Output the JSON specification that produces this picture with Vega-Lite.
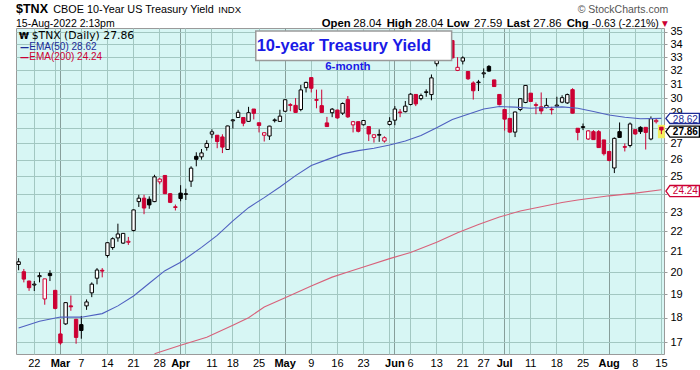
{
"$schema": "https://vega.github.io/schema/vega-lite/v6.json",
"width": 648, "height": 326,
"autosize": {"type": "none"},
"padding": {"left": 16, "top": 28, "right": 36, "bottom": 16},
"background": "white",
"config": {"font": "Liberation Sans", "view": {"fill": "#d7f6f4", "stroke": "#9a9a9a", "strokeWidth": 1}},
"datasets": {
"px": [
{"d":"2022-02-16","o":20.37,"h":20.67,"l":20.1,"c":20.5},
{"d":"2022-02-17","o":20.03,"h":20.16,"l":19.54,"c":19.69},
{"d":"2022-02-18","o":19.6,"h":19.62,"l":19.16,"c":19.3},
{"d":"2022-02-22","o":19.42,"h":19.6,"l":19.15,"c":19.46},
{"d":"2022-02-23","o":19.8,"h":20.0,"l":19.54,"c":19.85},
{"d":"2022-02-24","o":18.8,"h":19.7,"l":18.55,"c":19.7},
{"d":"2022-02-25","o":19.95,"h":20.1,"l":19.6,"c":19.85},
{"d":"2022-02-28","o":19.18,"h":19.2,"l":18.35,"c":18.39},
{"d":"2022-03-01","o":17.33,"h":17.93,"l":16.9,"c":16.97},
{"d":"2022-03-02","o":17.74,"h":18.66,"l":17.7,"c":18.64},
{"d":"2022-03-03","o":18.5,"h":18.95,"l":18.29,"c":18.46},
{"d":"2022-03-04","o":17.93,"h":17.95,"l":16.94,"c":17.19},
{"d":"2022-03-07","o":17.71,"h":18.07,"l":17.14,"c":17.47},
{"d":"2022-03-08","o":18.5,"h":18.78,"l":18.33,"c":18.67},
{"d":"2022-03-09","o":19.07,"h":19.54,"l":18.88,"c":19.46},
{"d":"2022-03-10","o":19.73,"h":20.2,"l":19.45,"c":20.11},
{"d":"2022-03-11","o":20.1,"h":20.2,"l":19.77,"c":20.06},
{"d":"2022-03-14","o":20.8,"h":21.45,"l":20.7,"c":21.43},
{"d":"2022-03-15","o":21.19,"h":21.7,"l":21.08,"c":21.63},
{"d":"2022-03-16","o":21.67,"h":22.4,"l":21.48,"c":21.87},
{"d":"2022-03-17","o":21.41,"h":21.92,"l":21.37,"c":21.9},
{"d":"2022-03-18","o":21.45,"h":21.72,"l":21.32,"c":21.5},
{"d":"2022-03-21","o":22.05,"h":23.15,"l":22.0,"c":23.13},
{"d":"2022-03-22","o":23.58,"h":23.96,"l":23.29,"c":23.77},
{"d":"2022-03-23","o":23.77,"h":23.96,"l":22.9,"c":23.23},
{"d":"2022-03-24","o":23.71,"h":23.87,"l":23.19,"c":23.4},
{"d":"2022-03-25","o":23.58,"h":25.1,"l":23.55,"c":24.98},
{"d":"2022-03-28","o":24.69,"h":24.92,"l":24.55,"c":24.85},
{"d":"2022-03-29","o":25.06,"h":25.08,"l":24.0,"c":24.02},
{"d":"2022-03-30","o":24.02,"h":24.05,"l":23.5,"c":23.54},
{"d":"2022-03-31","o":23.3,"h":23.42,"l":23.1,"c":23.26},
{"d":"2022-04-01","o":24.05,"h":24.5,"l":23.6,"c":23.75},
{"d":"2022-04-04","o":23.98,"h":24.3,"l":23.67,"c":24.02},
{"d":"2022-04-05","o":24.73,"h":25.6,"l":24.4,"c":25.49},
{"d":"2022-04-06","o":26.2,"h":26.45,"l":25.6,"c":26.02},
{"d":"2022-04-07","o":26.17,"h":26.65,"l":26.0,"c":26.41},
{"d":"2022-04-08","o":26.75,"h":27.2,"l":26.55,"c":27.0},
{"d":"2022-04-11","o":27.59,"h":27.9,"l":27.33,"c":27.74},
{"d":"2022-04-12","o":27.52,"h":27.52,"l":26.7,"c":27.12},
{"d":"2022-04-13","o":27.41,"h":27.58,"l":26.4,"c":26.77},
{"d":"2022-04-14","o":26.62,"h":28.14,"l":26.6,"c":28.12},
{"d":"2022-04-18","o":28.46,"h":28.58,"l":27.95,"c":28.52},
{"d":"2022-04-19","o":28.68,"h":29.2,"l":28.65,"c":29.03},
{"d":"2022-04-20","o":28.68,"h":28.68,"l":28.1,"c":28.3},
{"d":"2022-04-21","o":28.42,"h":29.4,"l":28.4,"c":29.0},
{"d":"2022-04-22","o":29.25,"h":29.25,"l":28.55,"c":28.96},
{"d":"2022-04-25","o":28.33,"h":28.33,"l":27.7,"c":28.15},
{"d":"2022-04-26","o":27.52,"h":27.7,"l":27.12,"c":27.68},
{"d":"2022-04-27","o":27.47,"h":28.13,"l":27.22,"c":28.11},
{"d":"2022-04-28","o":28.47,"h":28.62,"l":28.35,"c":28.52},
{"d":"2022-04-29","o":28.42,"h":29.2,"l":28.4,"c":28.77},
{"d":"2022-05-02","o":29.1,"h":29.92,"l":29.05,"c":29.89},
{"d":"2022-05-03","o":29.55,"h":29.65,"l":29.1,"c":29.5},
{"d":"2022-05-04","o":29.5,"h":30.0,"l":29.0,"c":29.02},
{"d":"2022-05-05","o":29.22,"h":30.94,"l":29.1,"c":30.58},
{"d":"2022-05-06","o":30.74,"h":31.17,"l":30.4,"c":31.12},
{"d":"2022-05-09","o":31.47,"h":31.5,"l":30.4,"c":30.7},
{"d":"2022-05-10","o":29.9,"h":30.6,"l":29.3,"c":29.85},
{"d":"2022-05-11","o":29.48,"h":30.6,"l":29.0,"c":29.02},
{"d":"2022-05-12","o":28.32,"h":28.72,"l":28.05,"c":28.08},
{"d":"2022-05-13","o":29.0,"h":29.32,"l":28.7,"c":29.24},
{"d":"2022-05-16","o":29.18,"h":29.2,"l":28.6,"c":28.65},
{"d":"2022-05-17","o":28.97,"h":29.7,"l":28.85,"c":29.63},
{"d":"2022-05-18","o":29.9,"h":30.15,"l":28.65,"c":28.72},
{"d":"2022-05-19","o":28.19,"h":28.45,"l":27.7,"c":28.4},
{"d":"2022-05-20","o":28.4,"h":28.42,"l":27.7,"c":27.77},
{"d":"2022-05-23","o":28.2,"h":28.5,"l":28.15,"c":28.48},
{"d":"2022-05-24","o":28.08,"h":28.08,"l":27.15,"c":27.6},
{"d":"2022-05-25","o":27.38,"h":27.55,"l":27.05,"c":27.55},
{"d":"2022-05-26","o":27.52,"h":27.9,"l":27.1,"c":27.57},
{"d":"2022-05-27","o":27.15,"h":27.45,"l":27.05,"c":27.36},
{"d":"2022-05-31","o":28.22,"h":28.7,"l":28.15,"c":28.42},
{"d":"2022-06-01","o":28.5,"h":29.45,"l":28.17,"c":29.25},
{"d":"2022-06-02","o":29.05,"h":29.25,"l":28.7,"c":29.0},
{"d":"2022-06-03","o":29.07,"h":29.8,"l":29.02,"c":29.45},
{"d":"2022-06-06","o":29.56,"h":30.35,"l":29.5,"c":30.28},
{"d":"2022-06-07","o":30.26,"h":30.28,"l":29.45,"c":29.6},
{"d":"2022-06-08","o":29.97,"h":30.32,"l":29.85,"c":30.18},
{"d":"2022-06-09","o":30.4,"h":30.62,"l":30.1,"c":30.45},
{"d":"2022-06-10","o":30.25,"h":31.7,"l":29.85,"c":31.45},
{"d":"2022-06-13","o":32.5,"h":33.8,"l":32.3,"c":33.5},
{"d":"2022-06-14","o":33.5,"h":34.6,"l":33.3,"c":34.4},
{"d":"2022-06-15","o":34.0,"h":34.2,"l":33.2,"c":33.4},
{"d":"2022-06-16","o":34.3,"h":34.35,"l":32.9,"c":32.95},
{"d":"2022-06-17","o":32.0,"h":33.0,"l":31.95,"c":32.23},
{"d":"2022-06-21","o":32.7,"h":33.07,"l":32.45,"c":32.95},
{"d":"2022-06-22","o":31.92,"h":31.95,"l":31.3,"c":31.38},
{"d":"2022-06-23","o":31.08,"h":31.2,"l":29.9,"c":30.52},
{"d":"2022-06-24","o":31.1,"h":31.3,"l":30.5,"c":31.15},
{"d":"2022-06-27","o":31.75,"h":32.15,"l":31.45,"c":31.82},
{"d":"2022-06-28","o":32.3,"h":32.4,"l":31.9,"c":31.95},
{"d":"2022-06-29","o":31.3,"h":31.3,"l":30.8,"c":30.82},
{"d":"2022-06-30","o":30.26,"h":30.26,"l":29.5,"c":29.55},
{"d":"2022-07-01","o":29.22,"h":29.22,"l":27.82,"c":28.57},
{"d":"2022-07-05","o":28.62,"h":28.62,"l":27.68,"c":27.72},
{"d":"2022-07-06","o":27.72,"h":29.07,"l":27.4,"c":29.05},
{"d":"2022-07-07","o":29.22,"h":29.98,"l":29.1,"c":29.96},
{"d":"2022-07-08","o":29.7,"h":30.92,"l":29.65,"c":30.9},
{"d":"2022-07-11","o":30.35,"h":30.35,"l":29.75,"c":29.77},
{"d":"2022-07-12","o":29.55,"h":29.7,"l":28.9,"c":29.5},
{"d":"2022-07-13","o":29.4,"h":30.4,"l":28.9,"c":29.12},
{"d":"2022-07-14","o":29.35,"h":30.0,"l":29.3,"c":29.5},
{"d":"2022-07-15","o":29.24,"h":29.4,"l":28.88,"c":29.2},
{"d":"2022-07-18","o":29.45,"h":30.1,"l":29.4,"c":29.52},
{"d":"2022-07-19","o":29.72,"h":30.2,"l":29.65,"c":30.03},
{"d":"2022-07-20","o":29.67,"h":30.32,"l":29.6,"c":30.25},
{"d":"2022-07-21","o":30.6,"h":30.7,"l":28.95,"c":28.97},
{"d":"2022-07-22","o":27.97,"h":27.97,"l":27.2,"c":27.7},
{"d":"2022-07-25","o":28.02,"h":28.28,"l":27.85,"c":28.08},
{"d":"2022-07-26","o":27.28,"h":27.85,"l":27.22,"c":27.8},
{"d":"2022-07-27","o":27.75,"h":27.85,"l":27.22,"c":27.24},
{"d":"2022-07-28","o":27.75,"h":27.85,"l":26.72,"c":26.74},
{"d":"2022-07-29","o":27.22,"h":27.22,"l":26.25,"c":26.36},
{"d":"2022-08-01","o":26.5,"h":26.5,"l":25.9,"c":25.95},
{"d":"2022-08-02","o":25.5,"h":27.38,"l":25.2,"c":27.32},
{"d":"2022-08-03","o":27.75,"h":28.35,"l":27.35,"c":27.38},
{"d":"2022-08-04","o":26.8,"h":27.0,"l":26.5,"c":26.76},
{"d":"2022-08-05","o":26.87,"h":28.35,"l":26.75,"c":28.25},
{"d":"2022-08-08","o":27.88,"h":27.88,"l":27.55,"c":27.6},
{"d":"2022-08-09","o":28.03,"h":28.1,"l":27.6,"c":27.75},
{"d":"2022-08-10","o":28.03,"h":28.03,"l":26.62,"c":27.7},
{"d":"2022-08-11","o":27.28,"h":28.75,"l":27.2,"c":28.6},
{"d":"2022-08-12","o":28.4,"h":28.58,"l":28.28,"c":28.49},
{"d":"2022-08-15","o":28.04,"h":28.04,"l":27.59,"c":27.86}
],
"e50": [
{"d":"2022-02-16","v":17.57},{"d":"2022-02-23","v":17.85},{"d":"2022-03-01","v":18.03},{"d":"2022-03-07","v":18.02},
{"d":"2022-03-11","v":18.17},{"d":"2022-03-16","v":18.5},{"d":"2022-03-21","v":18.93},{"d":"2022-03-24","v":19.5},
{"d":"2022-03-29","v":20.08},{"d":"2022-04-01","v":20.48},{"d":"2022-04-07","v":21.2},{"d":"2022-04-12","v":21.8},
{"d":"2022-04-18","v":22.55},{"d":"2022-04-21","v":23.25},{"d":"2022-04-26","v":23.8},{"d":"2022-04-29","v":24.4},
{"d":"2022-05-04","v":25.05},{"d":"2022-05-09","v":25.65},{"d":"2022-05-12","v":26.0},{"d":"2022-05-17","v":26.35},
{"d":"2022-05-20","v":26.55},{"d":"2022-05-25","v":26.7},{"d":"2022-05-31","v":26.9},{"d":"2022-06-03","v":27.15},
{"d":"2022-06-08","v":27.5},{"d":"2022-06-13","v":28.0},{"d":"2022-06-16","v":28.55},{"d":"2022-06-22","v":28.9},
{"d":"2022-06-27","v":29.25},{"d":"2022-06-30","v":29.42},{"d":"2022-07-06","v":29.38},{"d":"2022-07-11","v":29.3},
{"d":"2022-07-14","v":29.35},{"d":"2022-07-19","v":29.4},{"d":"2022-07-22","v":29.3},{"d":"2022-07-27","v":29.08},
{"d":"2022-08-01","v":28.85},{"d":"2022-08-04","v":28.7},{"d":"2022-08-09","v":28.6},{"d":"2022-08-15","v":28.62}
],
"e200": [
{"d":"2022-03-25","v":16.55},{"d":"2022-04-01","v":16.88},{"d":"2022-04-08","v":17.2},{"d":"2022-04-18","v":17.68},
{"d":"2022-04-21","v":18.0},{"d":"2022-04-26","v":18.45},{"d":"2022-05-02","v":18.85},{"d":"2022-05-09","v":19.38},
{"d":"2022-05-13","v":19.78},{"d":"2022-05-18","v":20.02},{"d":"2022-05-23","v":20.25},{"d":"2022-05-31","v":20.65},
{"d":"2022-06-06","v":20.95},{"d":"2022-06-13","v":21.45},{"d":"2022-06-17","v":21.93},{"d":"2022-06-24","v":22.36},
{"d":"2022-06-30","v":22.75},{"d":"2022-07-07","v":23.07},{"d":"2022-07-13","v":23.3},{"d":"2022-07-19","v":23.53},
{"d":"2022-07-22","v":23.67},{"d":"2022-08-01","v":23.9},{"d":"2022-08-08","v":24.05},{"d":"2022-08-15","v":24.24}
]
},
"layer": [
{
"data": {"name": "px"},
"transform": [{"window": [{"op": "lag", "field": "c", "as": "pc"}], "sort": [{"field": "d"}]}],
"encoding": {
"x": {"field": "d", "type": "ordinal", "title": null,
"scale": {"type": "band", "paddingInner": 0, "paddingOuter": 0},
"axis": {"orient": "bottom", "bandPosition": 0.5, "grid": true, "ticks": false, "domain": false, "labelAngle": 0,
"labelFontSize": 11, "labelColor": "#000000", "labelPadding": 3, "labelOverlap": false, "labelBound": false, "labelFlush": false,
"values": ["2022-02-22","2022-02-28","2022-03-01","2022-03-07","2022-03-14","2022-03-21","2022-03-28","2022-04-01","2022-04-04","2022-04-11","2022-04-18","2022-04-25","2022-05-02","2022-05-09","2022-05-16","2022-05-23","2022-05-31","2022-06-01","2022-06-06","2022-06-13","2022-06-21","2022-06-27","2022-07-01","2022-07-05","2022-07-11","2022-07-18","2022-07-25","2022-08-01","2022-08-08","2022-08-15"],
"labelExpr": "indexof(['2022-02-28','2022-04-04','2022-05-31','2022-07-05'], datum.value) >= 0 ? '' : (indexof(['2022-03-01','2022-04-01','2022-05-02','2022-06-01','2022-07-01','2022-08-01'], datum.value) >= 0 ? ['Jan','Feb','Mar','Apr','May','Jun','Jul','Aug','Sep','Oct','Nov','Dec'][toNumber(substring(datum.value,5,7)) - 1] : '' + toNumber(substring(datum.value,8,10)))",
"labelFontWeight": {"condition": {"test": "indexof(['2022-03-01','2022-04-01','2022-05-02','2022-06-01','2022-07-01','2022-08-01'], datum.value) >= 0", "value": "bold"}, "value": "normal"},
"gridColor": {"condition": {"test": "indexof(['2022-03-01','2022-04-01','2022-05-02','2022-06-01','2022-07-01','2022-08-01'], datum.value) >= 0", "value": "#879e9a"}, "value": "#a2c7c1"}
}
}
},
"layer": [
{"mark": {"type": "bar", "width": 7, "color": "#f4ef5c"},
"transform": [{"filter": "datum.d == '2022-08-15'"}],
"encoding": {"y": {"datum": 27.33, "type": "quantitative", "scale": {"type": "log", "domain": [16.54, 35.32], "nice": false, "zero": false}}, "y2": {"datum": 28.19}}},
{"mark": {"type": "rule", "strokeWidth": 1},
"encoding": {
"y": {"field": "l", "type": "quantitative", "title": null,
"scale": {"type": "log", "domain": [16.54, 35.32], "nice": false, "zero": false},
"axis": {"orient": "right", "values": [17,18,19,20,21,22,23,24,25,26,27,28,29,30,31,32,33,34,35], "format": "d", "labelExpr": "datum.value == 28 || datum.value == 24 ? '' : datum.label", "grid": true, "gridColor": "#a2c7c1", "domain": false, "ticks": true, "tickSize": 3, "tickColor": "#9a9a9a", "labelFontSize": 11, "labelPadding": 3, "labelColor": "#000000", "labelOverlap": false, "labelBound": false, "labelFlush": false}},
"y2": {"field": "h"},
"color": {"condition": {"test": "datum.c < datum.pc", "value": "#cc0033"}, "value": "#000000"}
}},
{"mark": {"type": "bar", "width": 3.4, "strokeWidth": 1},
"encoding": {
"y": {"field": "o", "type": "quantitative", "title": null, "scale": {"type": "log", "domain": [16.54, 35.32], "nice": false, "zero": false}},
"y2": {"field": "c"},
"fill": {"condition": [{"test": "datum.c > datum.o", "value": "#ffffff"}, {"test": "datum.c < datum.pc", "value": "#cc0033"}], "value": "#000000"},
"stroke": {"condition": {"test": "datum.c < datum.pc", "value": "#cc0033"}, "value": "#000000"}
}}
]
},
{"data": {"name": "e50"}, "mark": {"type": "line", "color": "#4f60c0", "strokeWidth": 1.1, "clip": true},
"encoding": {"x": {"field": "d", "type": "ordinal", "title": null}, "y": {"field": "v", "type": "quantitative", "title": null, "scale": {"type": "log", "domain": [16.54, 35.32], "nice": false, "zero": false}}}},
{"data": {"name": "e200"}, "mark": {"type": "line", "color": "#d8617a", "strokeWidth": 1.1, "clip": true},
"encoding": {"x": {"field": "d", "type": "ordinal", "title": null}, "y": {"field": "v", "type": "quantitative", "title": null, "scale": {"type": "log", "domain": [16.54, 35.32], "nice": false, "zero": false}}}},
{"data": {"values": [{}]}, "mark": {"type": "rect", "fill": "#ffffff", "stroke": "#9a9a9a", "strokeWidth": 1.5, "xOffset": 2, "x2Offset": 4.5},
"encoding": {"x": {"datum": "2022-04-22", "type": "ordinal"}, "x2": {"datum": "2022-06-15"},
"y": {"datum": 35.08, "type": "quantitative", "scale": {"type": "log", "domain": [16.54, 35.32], "nice": false, "zero": false}}, "y2": {"datum": 32.75}}},
{"data": {"values": [{}]}, "mark": {"type": "text", "align": "left", "baseline": "alphabetic", "dx": 2.9, "fontSize": 16.5, "fontWeight": "bold", "color": "#1a1ae6", "text": "10-year Treasury Yield"},
"encoding": {"x": {"datum": "2022-04-22", "type": "ordinal"}, "y": {"datum": 33.45, "type": "quantitative", "scale": {"type": "log", "domain": [16.54, 35.32], "nice": false, "zero": false}}}},
{"data": {"values": [{}]}, "mark": {"type": "text", "align": "center", "baseline": "alphabetic", "fontSize": 11.5, "fontWeight": "bold", "color": "#1a1ae6", "text": "6-month"},
"encoding": {"x": {"datum": "2022-05-18", "type": "ordinal"}, "y": {"datum": 32.03, "type": "quantitative", "scale": {"type": "log", "domain": [16.54, 35.32], "nice": false, "zero": false}}}},
{"data": {"values": [{}]}, "mark": {"type": "text", "align": "left", "baseline": "alphabetic", "dx": 0.4, "font": "DejaVu Sans", "fontSize": 9, "fontWeight": "bold", "color": "#000000", "text": "₩"},
"encoding": {"x": {"datum": "2022-02-16", "type": "ordinal"}, "y": {"datum": 34.46, "type": "quantitative", "scale": {"type": "log", "domain": [16.54, 35.32], "nice": false, "zero": false}}}},
{"data": {"values": [{}]}, "mark": {"type": "text", "align": "left", "baseline": "alphabetic", "dx": 13.1, "font": "DejaVu Sans", "fontSize": 10.8, "color": "#000000", "text": "$TNX (Daily) 27.86"},
"encoding": {"x": {"datum": "2022-02-16", "type": "ordinal"}, "y": {"datum": 34.44, "type": "quantitative", "scale": {"type": "log", "domain": [16.54, 35.32], "nice": false, "zero": false}}}},
{"data": {"values": [{}]}, "mark": {"type": "text", "align": "left", "baseline": "alphabetic", "dx": 1.4, "font": "DejaVu Sans", "fontSize": 9, "fontWeight": "bold", "color": "#1c2b96", "text": "—"},
"encoding": {"x": {"datum": "2022-02-16", "type": "ordinal"}, "y": {"datum": 33.58, "type": "quantitative", "scale": {"type": "log", "domain": [16.54, 35.32], "nice": false, "zero": false}}}},
{"data": {"values": [{}]}, "mark": {"type": "text", "align": "left", "baseline": "alphabetic", "dx": 10.7, "fontSize": 10, "color": "#1c2b96", "text": "EMA(50) 28.62"},
"encoding": {"x": {"datum": "2022-02-16", "type": "ordinal"}, "y": {"datum": 33.58, "type": "quantitative", "scale": {"type": "log", "domain": [16.54, 35.32], "nice": false, "zero": false}}}},
{"data": {"values": [{}]}, "mark": {"type": "text", "align": "left", "baseline": "alphabetic", "dx": 1.4, "font": "DejaVu Sans", "fontSize": 9, "fontWeight": "bold", "color": "#cc0033", "text": "—"},
"encoding": {"x": {"datum": "2022-02-16", "type": "ordinal"}, "y": {"datum": 32.75, "type": "quantitative", "scale": {"type": "log", "domain": [16.54, 35.32], "nice": false, "zero": false}}}},
{"data": {"values": [{}]}, "mark": {"type": "text", "align": "left", "baseline": "alphabetic", "dx": 10.7, "fontSize": 10, "color": "#cc0033", "text": "EMA(200) 24.24"},
"encoding": {"x": {"datum": "2022-02-16", "type": "ordinal"}, "y": {"datum": 32.75, "type": "quantitative", "scale": {"type": "log", "domain": [16.54, 35.32], "nice": false, "zero": false}}}},
{"data": {"values": [{}]}, "mark": {"type": "text", "align": "left", "baseline": "alphabetic", "dx": -2.6, "fontSize": 12.5, "fontWeight": "bold", "color": "#000000", "text": "$TNX"},
"encoding": {"x": {"datum": "2022-02-16", "type": "ordinal"}, "y": {"datum": 36.54, "type": "quantitative", "scale": {"type": "log", "domain": [16.54, 35.32], "nice": false, "zero": false}}}},
{"data": {"values": [{}]}, "mark": {"type": "text", "align": "left", "baseline": "alphabetic", "dx": 34.7, "fontSize": 10.8, "color": "#000000", "text": "CBOE 10-Year US Treasury Yield"},
"encoding": {"x": {"datum": "2022-02-16", "type": "ordinal"}, "y": {"datum": 36.54, "type": "quantitative", "scale": {"type": "log", "domain": [16.54, 35.32], "nice": false, "zero": false}}}},
{"data": {"values": [{}]}, "mark": {"type": "text", "align": "left", "baseline": "alphabetic", "dx": 199.7, "fontSize": 9.5, "color": "#000000", "text": "INDX"},
"encoding": {"x": {"datum": "2022-02-16", "type": "ordinal"}, "y": {"datum": 36.54, "type": "quantitative", "scale": {"type": "log", "domain": [16.54, 35.32], "nice": false, "zero": false}}}},
{"data": {"values": [{}]}, "mark": {"type": "text", "align": "left", "baseline": "alphabetic", "dx": -2.6, "fontSize": 10.5, "color": "#000000", "text": "15-Aug-2022 2:13pm"},
"encoding": {"x": {"datum": "2022-02-16", "type": "ordinal"}, "y": {"datum": 35.43, "type": "quantitative", "scale": {"type": "log", "domain": [16.54, 35.32], "nice": false, "zero": false}}}},
{"data": {"values": [{}]}, "mark": {"type": "text", "align": "right", "baseline": "alphabetic", "dx": 6.9, "fontSize": 10.5, "color": "#555555", "text": "© StockCharts.com"},
"encoding": {"x": {"datum": "2022-08-15", "type": "ordinal"}, "y": {"datum": 36.6, "type": "quantitative", "scale": {"type": "log", "domain": [16.54, 35.32], "nice": false, "zero": false}}}},
{"data": {"values": [{}]}, "mark": {"type": "text", "align": "left", "baseline": "alphabetic", "dx": 0, "fontSize": 11.3, "fontWeight": "bold", "color": "#000000", "text": "Open"},
"encoding": {"x": {"datum": "2022-05-11", "type": "ordinal"}, "y": {"datum": 35.44, "type": "quantitative", "scale": {"type": "log", "domain": [16.54, 35.32], "nice": false, "zero": false}}}},
{"data": {"values": [{}]}, "mark": {"type": "text", "align": "left", "baseline": "alphabetic", "dx": 31.6, "fontSize": 11.3, "color": "#000000", "text": "28.04"},
"encoding": {"x": {"datum": "2022-05-11", "type": "ordinal"}, "y": {"datum": 35.44, "type": "quantitative", "scale": {"type": "log", "domain": [16.54, 35.32], "nice": false, "zero": false}}}},
{"data": {"values": [{}]}, "mark": {"type": "text", "align": "left", "baseline": "alphabetic", "dx": 65, "fontSize": 11.3, "fontWeight": "bold", "color": "#000000", "text": "High"},
"encoding": {"x": {"datum": "2022-05-11", "type": "ordinal"}, "y": {"datum": 35.44, "type": "quantitative", "scale": {"type": "log", "domain": [16.54, 35.32], "nice": false, "zero": false}}}},
{"data": {"values": [{}]}, "mark": {"type": "text", "align": "left", "baseline": "alphabetic", "dx": 93.3, "fontSize": 11.3, "color": "#000000", "text": "28.04"},
"encoding": {"x": {"datum": "2022-05-11", "type": "ordinal"}, "y": {"datum": 35.44, "type": "quantitative", "scale": {"type": "log", "domain": [16.54, 35.32], "nice": false, "zero": false}}}},
{"data": {"values": [{}]}, "mark": {"type": "text", "align": "left", "baseline": "alphabetic", "dx": 125, "fontSize": 11.3, "fontWeight": "bold", "color": "#000000", "text": "Low"},
"encoding": {"x": {"datum": "2022-05-11", "type": "ordinal"}, "y": {"datum": 35.44, "type": "quantitative", "scale": {"type": "log", "domain": [16.54, 35.32], "nice": false, "zero": false}}}},
{"data": {"values": [{}]}, "mark": {"type": "text", "align": "left", "baseline": "alphabetic", "dx": 152.3, "fontSize": 11.3, "color": "#000000", "text": "27.59"},
"encoding": {"x": {"datum": "2022-05-11", "type": "ordinal"}, "y": {"datum": 35.44, "type": "quantitative", "scale": {"type": "log", "domain": [16.54, 35.32], "nice": false, "zero": false}}}},
{"data": {"values": [{}]}, "mark": {"type": "text", "align": "left", "baseline": "alphabetic", "dx": 185, "fontSize": 11.3, "fontWeight": "bold", "color": "#000000", "text": "Last"},
"encoding": {"x": {"datum": "2022-05-11", "type": "ordinal"}, "y": {"datum": 35.44, "type": "quantitative", "scale": {"type": "log", "domain": [16.54, 35.32], "nice": false, "zero": false}}}},
{"data": {"values": [{}]}, "mark": {"type": "text", "align": "left", "baseline": "alphabetic", "dx": 211.6, "fontSize": 11.3, "color": "#000000", "text": "27.86"},
"encoding": {"x": {"datum": "2022-05-11", "type": "ordinal"}, "y": {"datum": 35.44, "type": "quantitative", "scale": {"type": "log", "domain": [16.54, 35.32], "nice": false, "zero": false}}}},
{"data": {"values": [{}]}, "mark": {"type": "text", "align": "left", "baseline": "alphabetic", "dx": 245, "fontSize": 11.3, "fontWeight": "bold", "color": "#000000", "text": "Chg"},
"encoding": {"x": {"datum": "2022-05-11", "type": "ordinal"}, "y": {"datum": 35.44, "type": "quantitative", "scale": {"type": "log", "domain": [16.54, 35.32], "nice": false, "zero": false}}}},
{"data": {"values": [{}]}, "mark": {"type": "text", "align": "left", "baseline": "alphabetic", "dx": 270, "fontSize": 10.5, "color": "#000000", "text": "-0.63 (-2.21%)"},
"encoding": {"x": {"datum": "2022-05-11", "type": "ordinal"}, "y": {"datum": 35.44, "type": "quantitative", "scale": {"type": "log", "domain": [16.54, 35.32], "nice": false, "zero": false}}}},
{"data": {"values": [{}]}, "mark": {"type": "text", "align": "center", "baseline": "alphabetic", "dx": 3.5, "font": "DejaVu Sans", "fontSize": 7.5, "color": "#cc0033", "text": "▼"},
"encoding": {"x": {"datum": "2022-08-15", "type": "ordinal"}, "y": {"datum": 35.45, "type": "quantitative", "scale": {"type": "log", "domain": [16.54, 35.32], "nice": false, "zero": false}}}},
{"data": {"values": [{}]}, "mark": {"type": "point", "shape": "M0.265,0L0.5,-0.3L2.235,-0.3L2.235,0.3L0.5,0.3Z", "size": 1156, "filled": true, "fill": "#ffffff", "stroke": "#1c2b96", "strokeWidth": 1.3, "opacity": 1},
"encoding": {"x": {"datum": "2022-08-15", "type": "ordinal"}, "y": {"datum": 28.62, "type": "quantitative", "scale": {"type": "log", "domain": [16.54, 35.32], "nice": false, "zero": false}}}},
{"data": {"values": [{}]}, "mark": {"type": "text", "align": "center", "baseline": "alphabetic", "dx": 24, "fontSize": 10, "color": "#1c2b96", "text": "28.62"},
"encoding": {"x": {"datum": "2022-08-15", "type": "ordinal"}, "y": {"datum": 28.32, "type": "quantitative", "scale": {"type": "log", "domain": [16.54, 35.32], "nice": false, "zero": false}}}},
{"data": {"values": [{}]}, "mark": {"type": "point", "shape": "M0.265,0.094L0.5,-0.23L2.235,-0.23L2.235,0.418L0.5,0.418Z", "size": 1156, "filled": true, "fill": "#ffffff", "stroke": "#000000", "strokeWidth": 1.3, "opacity": 1},
"encoding": {"x": {"datum": "2022-08-15", "type": "ordinal"}, "y": {"datum": 27.86, "type": "quantitative", "scale": {"type": "log", "domain": [16.54, 35.32], "nice": false, "zero": false}}}},
{"data": {"values": [{}]}, "mark": {"type": "text", "align": "center", "baseline": "alphabetic", "dx": 24, "fontSize": 10, "fontWeight": "bold", "color": "#000000", "text": "27.86"},
"encoding": {"x": {"datum": "2022-08-15", "type": "ordinal"}, "y": {"datum": 27.52, "type": "quantitative", "scale": {"type": "log", "domain": [16.54, 35.32], "nice": false, "zero": false}}}},
{"data": {"values": [{}]}, "mark": {"type": "point", "shape": "M0.265,0.076L0.5,-0.25L2.235,-0.25L2.235,0.4L0.5,0.4Z", "size": 1156, "filled": true, "fill": "#ffffff", "stroke": "#cc0033", "strokeWidth": 1.3, "opacity": 1},
"encoding": {"x": {"datum": "2022-08-15", "type": "ordinal"}, "y": {"datum": 24.24, "type": "quantitative", "scale": {"type": "log", "domain": [16.54, 35.32], "nice": false, "zero": false}}}},
{"data": {"values": [{}]}, "mark": {"type": "text", "align": "center", "baseline": "alphabetic", "dx": 24, "fontSize": 10, "color": "#cc0033", "text": "24.24"},
"encoding": {"x": {"datum": "2022-08-15", "type": "ordinal"}, "y": {"datum": 24.00, "type": "quantitative", "scale": {"type": "log", "domain": [16.54, 35.32], "nice": false, "zero": false}}}}
]
}
